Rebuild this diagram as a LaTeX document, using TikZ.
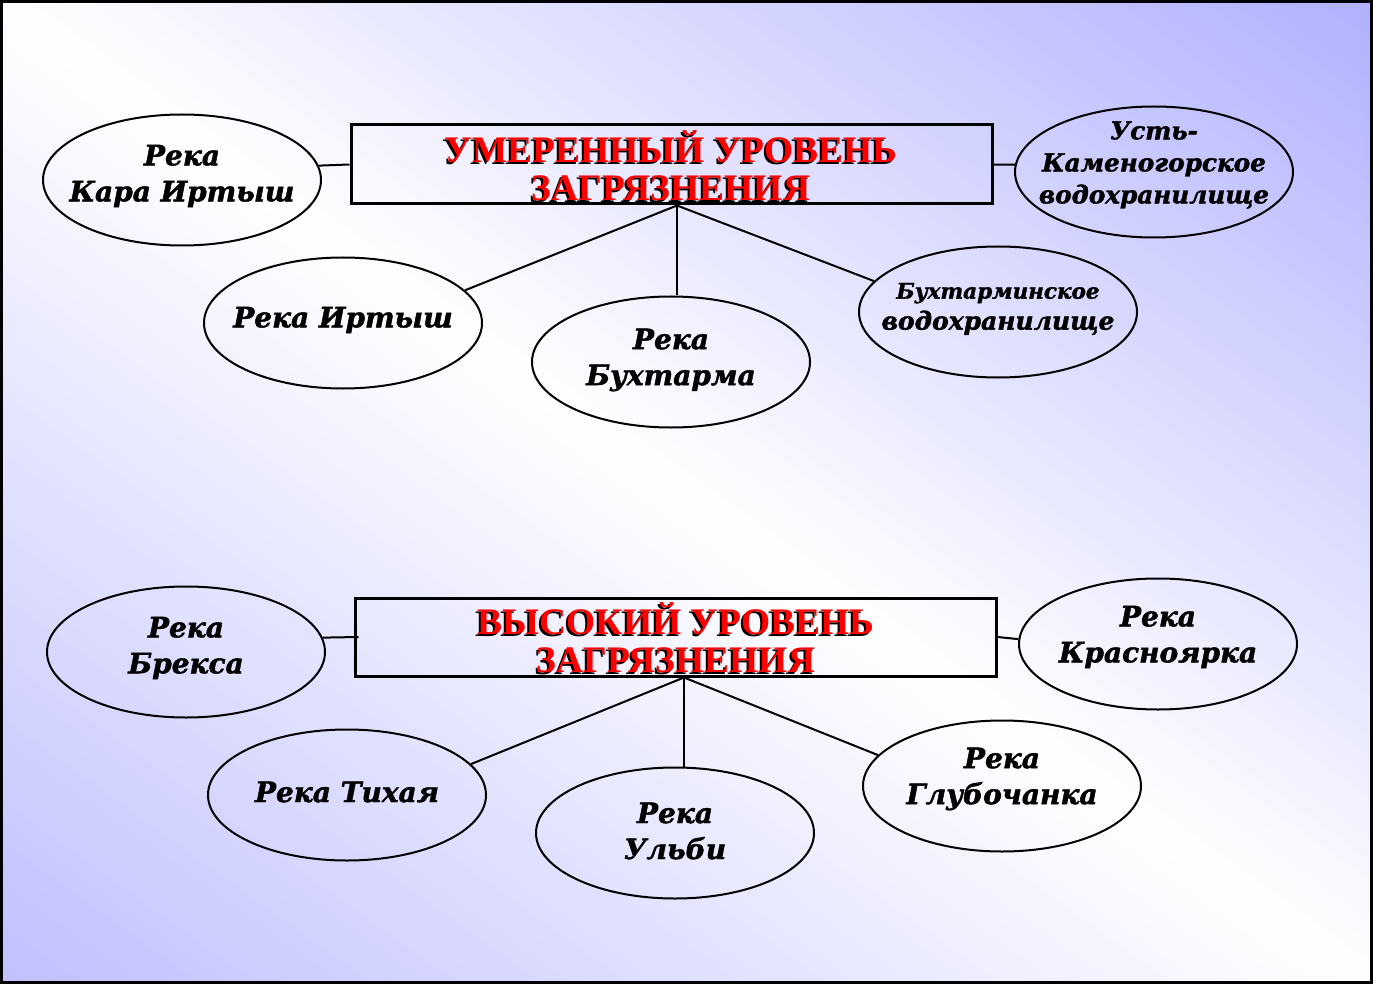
\documentclass[tikz,border=0pt]{standalone}
\usepackage{fontspec}
\setmainfont{Liberation Serif}
\newfontfamily\ellfont{DejaVu Serif}[BoldItalicFeatures={FakeBold=1.6}]
\usetikzlibrary{shapes.geometric}
\definecolor{bgTR}{RGB}{176,176,255}
\definecolor{bgBL}{RGB}{192,192,255}
\definecolor{titlered}{RGB}{255,0,0}
\tikzset{
  ell/.style={ellipse, draw=black, line width=2pt, minimum width=278pt, minimum height=131pt, inner sep=0pt},
  elltext/.style={align=center, inner sep=0pt, font=\ellfont\bfseries\itshape\fontsize{28}{36}\selectfont},
  titlebox/.style={draw=black, line width=3pt, rectangle, inner sep=0pt},
  titletext/.style={align=center, inner sep=0pt, font=\bfseries\fontsize{37.5}{38}\selectfont, text=titlered},
  titleshadow/.style={titletext, text=black},
  conn/.style={draw=black, line width=2pt},
}
\begin{document}
\begin{tikzpicture}[x=1pt, y=-1pt]
\useasboundingbox (0,0) rectangle (1373,984);
% background gradient
\begin{scope}
\clip (0,0) rectangle (1373,984);
\foreach \k in {0,...,47} {
  \pgfmathsetmacro\ta{\k/48*984}
  \pgfmathsetmacro\tb{(\k+1.05)/48*984}
  \pgfmathsetmacro\pc{(\k+0.5)/48*100}
  \fill[bgBL!\pc!white] (0,\ta) -- (1373,\ta+984) -- (1373,\tb+984) -- (0,\tb) -- cycle;
  \fill[bgTR!\pc!white] (0,-\ta) -- (1373,984-\ta) -- (1373,984-\tb) -- (0,-\tb) -- cycle;
}
\end{scope}

% ---- upper group ----
\node[titlebox, minimum width=641pt, minimum height=79pt] (b1) at (671.5,164.5) {};
\node[ell] (e1) at (182,180) {};
\node[ell] (e2) at (343,323) {};
\node[ell] (e3) at (671,362) {};
\node[ell] (e4) at (998,312) {};
\node[ell] (e5) at (1154,172) {};

\node[elltext] (e1t) at (182,176) {Река\\Кара Иртыш};
\node[elltext] (e2t) at (343,320) {Река Иртыш};
\node[elltext] (e3t) at (671,360) {Река\\Бухтарма};
\node[elltext, font=\ellfont\bfseries\itshape\fontsize{25}{31}\selectfont] (e4t) at (998,309) {{\fontsize{21.5}{31}\selectfont Бухтарминское}\\водохранилище};
\node[elltext, font=\ellfont\bfseries\itshape\fontsize{24.7}{32}\selectfont] (e5t) at (1154,165) {Усть-\\Каменогорское\\водохранилище};

\node[titleshadow] (t1s) at (669,168) {УМЕРЕННЫЙ УРОВЕНЬ\\ЗАГРЯЗНЕНИЯ};
\node[titletext] (t1) at (671,166) {УМЕРЕННЫЙ УРОВЕНЬ\\ЗАГРЯЗНЕНИЯ};

\draw[conn] (b1.west) -- (e1.6);
\draw[conn] (b1.east) -- (e5.177);
\coordinate (h1) at ([xshift=5.5pt]b1.south);
\draw[conn] (h1) -- (e2.15);
\draw[conn] (h1) -- (h1 |- e3.north);
\draw[conn] (h1) -- (e4.166);

% ---- lower group ----
\node[titlebox, minimum width=641pt, minimum height=78pt] (b2) at (675.5,637) {};
\node[ell] (e6) at (186,652) {};
\node[ell] (e7) at (347,795) {};
\node[ell] (e8) at (675,833) {};
\node[ell] (e9) at (1002,786) {};
\node[ell] (e10) at (1158,644) {};

\node[elltext] (e6t) at (186,648) {Река\\Брекса};
\node[elltext] (e7t) at (347,792) {Река Тихая};
\node[elltext] (e8t) at (675,831) {Река\\Ульби};
\node[elltext] (e9t) at (1002,779) {Река\\Глубочанка};
\node[elltext] (e10t) at (1158,637) {Река\\Красноярка};

\node[titleshadow] (t2s) at (674,640) {ВЫСОКИЙ УРОВЕНЬ\\ЗАГРЯЗНЕНИЯ};
\node[titletext] (t2) at (676,638) {ВЫСОКИЙ УРОВЕНЬ\\ЗАГРЯЗНЕНИЯ};

\draw[conn] ([xshift=5pt]b2.west) -- (e6.6);
\draw[conn] (b2.east) -- (e10.178);
\coordinate (h2) at ([xshift=8.5pt]b2.south);
\draw[conn] (h2) -- (e7.14);
\draw[conn] (h2) -- (h2 |- e8.north);
\draw[conn] (h2) -- (e9.166);

% frame
\draw[line width=3pt] (1.5,1.5) rectangle (1371.5,982.5);
\end{tikzpicture}
\end{document}
